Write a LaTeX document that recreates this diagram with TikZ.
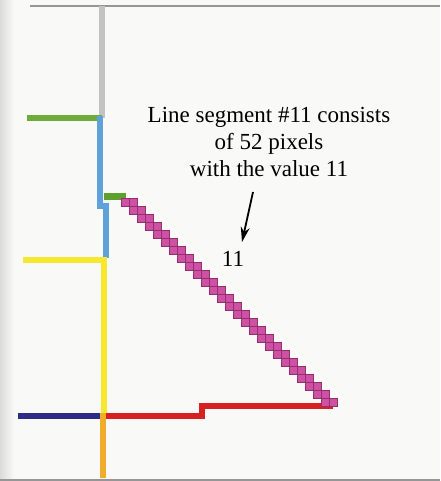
\documentclass[tikz,border=0pt]{standalone}
\usepackage{fontspec}
\setmainfont{Liberation Serif}
\usetikzlibrary{arrows.meta}
\definecolor{paper}{RGB}{249,249,247}
\definecolor{rulegray}{RGB}{150,150,150}
\definecolor{lgray}{RGB}{195,195,195}
\definecolor{sgreen}{RGB}{112,172,60}
\definecolor{dgreen}{RGB}{95,160,45}
\definecolor{sblue}{RGB}{95,162,218}
\definecolor{syellow}{RGB}{246,232,45}
\definecolor{snavy}{RGB}{45,45,135}
\definecolor{sred}{RGB}{215,32,32}
\definecolor{sorange}{RGB}{240,172,42}
\definecolor{smag}{RGB}{205,82,162}
\definecolor{dmag}{RGB}{150,45,112}
\begin{document}
\begin{tikzpicture}[x=1pt,y=-1pt,
  seg/.style={line width=6pt},
  pix/.style={fill=smag, draw=dmag, line width=0.7pt},
  lbl/.style={font=\fontsize{23}{27}\selectfont, inner sep=0pt}]
\useasboundingbox (0,0) rectangle (440,481);
\fill[paper] (0,0) rectangle (440,481);
\shade[left color=black!14, right color=paper] (0,0) rectangle (14,481);
% page rules
\draw[rulegray, line width=1.6pt] (30,6) -- (440,6);
\draw[rulegray, line width=2pt] (0,479.5) -- (440,479.5);
% line segments
\draw[seg, lgray] (102,6) -- (102,118);
\draw[seg, sgreen] (27,118) -- (102,118);
\draw[seg, sblue] (100,116) -- (100,206) -- (106,206) -- (106,258);
\draw[line width=7pt, dgreen] (104,196.5) -- (126,196.5);
\draw[seg, syellow] (23,260) -- (104,260);
\draw[seg, syellow] (104,257) -- (104,415);
\draw[seg, snavy] (18,415.5) -- (101,415.5);
\draw[seg, sorange] (103,413) -- (103,478);
\draw[seg, sred, miter limit=10] (106,415.5) -- (202,415.5) -- (202,406) -- (333,406);
% segment #11 pixels
\foreach \k in {0,...,51}{
  \pgfmathtruncatemacro\ii{(\k+1)/2}
  \pgfmathtruncatemacro\jj{\k/2}
  \path[pix] (121+8*\ii,198+8*\jj) rectangle ++(8,8);
}
% annotation
\node[lbl, align=center] (txt) at (269,142)
  {Line segment \#11 consists\\of 52 pixels\\with the value 11};
\node[lbl] (val) at (233,259) {11};
\coordinate (astart) at (253,192);
\coordinate (aend) at (242,242);
\draw[line width=1.8pt, -{Stealth[length=15pt,width=9pt]}] (astart) -- (aend);
\end{tikzpicture}
\end{document}
